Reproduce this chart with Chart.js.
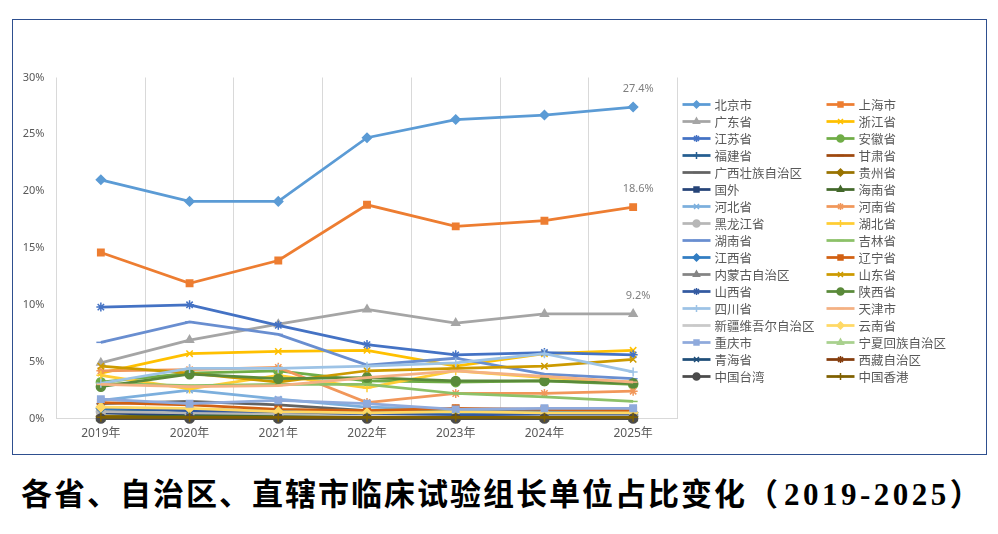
<!DOCTYPE html>
<html lang="zh-CN">
<head>
    <meta charset="UTF-8">
    <title>临床试验组长单位占比变化</title>

    <!-- CSS -->
    <style>
        * {
            margin: 0;
            padding: 0;
            box-sizing: border-box;
        }

        body {
            width: 998px;
            height: 534px;
            background: #fff;
            position: relative;
            overflow: hidden;
        }

        .chart-box {
            position: absolute;
            left: 12px;
            top: 19px;
            width: 975px;
            height: 436px;
            border: 1.5px solid #2E4F8F;
        }

        .caption {
            position: absolute;
            left: 21px;
            top: 478px;
            line-height: 34px;
            font-family: "Liberation Serif", "Noto Sans CJK SC", serif;
            font-weight: bold;
            font-size: 31px;
            letter-spacing: 2px;
            color: #000;
            white-space: nowrap;
        }

        .caption .num {
            letter-spacing: 3.5px;
            font-weight: 600;
        }

        .caption .par {
            letter-spacing: 6px;
        }
    </style>

    <!-- Chart.js -->
    <script src="https://cdn.jsdelivr.net/npm/chart.js"></script>
</head>
<body>
    <div class="chart-box">
        <canvas id="lineChart"></canvas>
    </div>
    <div class="caption">各省、自治区、直辖市临床试验组长单位占比变化<span class="par">（</span><span class="num">2019-2025</span>）</div>

    <script>
        // Données
        const years = ['2019年', '2020年', '2021年', '2022年', '2023年', '2024年', '2025年'];
        const yTicks = [0, 5, 10, 15, 20, 25, 30];

        const regions = [
            '北京市', '上海市', '广东省', '浙江省', '江苏省', '安徽省', '福建省', '甘肃省',
            '广西壮族自治区', '贵州省', '国外', '海南省', '河北省', '河南省', '黑龙江省', '湖北省',
            '湖南省', '吉林省', '江西省', '辽宁省', '内蒙古自治区', '山东省', '山西省', '陕西省',
            '四川省', '天津市', '新疆维吾尔自治区', '云南省', '重庆市', '宁夏回族自治区', '青海省', '西藏自治区',
            '中国台湾', '中国香港'
        ];

        // % par année, même ordre que regions
        const shares = [
            [21.0, 19.1, 19.1, 24.7, 26.3, 26.7, 27.4], // 北京市
            [14.6, 11.9, 13.9, 18.8, 16.9, 17.4, 18.6], // 上海市
            [4.9, 6.9, 8.3, 9.6, 8.4, 9.2, 9.2],        // 广东省
            [4.0, 5.7, 5.9, 6.0, 4.6, 5.7, 6.0],        // 浙江省
            [9.8, 10.0, 8.2, 6.5, 5.6, 5.8, 5.6],       // 江苏省
            [3.2, 4.0, 4.2, 3.3, 3.2, 3.3, 3.0],        // 安徽省
            [0.8, 0.7, 0.6, 0.5, 0.4, 0.5, 0.4],        // 福建省
            [0.1, 0.1, 0.1, 0.1, 0.1, 0.1, 0.1],        // 甘肃省
            [1.3, 1.5, 1.2, 0.7, 0.6, 0.5, 0.4],        // 广西
            [0.2, 0.2, 0.3, 0.2, 0.2, 0.2, 0.2],        // 贵州省
            [0.5, 0.3, 0.2, 0.1, 0.1, 0.1, 0.1],        // 国外
            [0.1, 0.2, 0.3, 0.4, 0.7, 0.6, 0.6],        // 海南省
            [1.6, 2.5, 1.7, 1.0, 0.8, 0.8, 0.8],        // 河北省
            [4.2, 4.3, 4.5, 1.4, 2.2, 2.2, 2.4],        // 河南省
            [0.6, 0.5, 0.4, 0.4, 0.3, 0.3, 0.3],        // 黑龙江省
            [3.8, 2.6, 3.8, 2.7, 4.2, 3.6, 3.2],        // 湖北省
            [6.7, 8.5, 7.4, 4.7, 5.3, 3.9, 3.5],        // 湖南省
            [3.1, 2.9, 3.0, 3.0, 2.2, 1.9, 1.5],        // 吉林省
            [0.9, 0.8, 0.7, 0.6, 0.5, 0.6, 0.5],        // 江西省
            [1.4, 1.2, 0.8, 0.7, 0.9, 0.8, 0.7],        // 辽宁省
            [0.1, 0.1, 0.1, 0.1, 0.1, 0.1, 0.1],        // 内蒙古
            [4.6, 4.0, 3.2, 4.2, 4.4, 4.6, 5.2],        // 山东省
            [1.0, 0.7, 0.6, 0.4, 0.3, 0.4, 0.4],        // 山西省
            [2.8, 3.9, 3.5, 3.6, 3.3, 3.3, 3.1],        // 陕西省
            [3.1, 4.4, 4.4, 4.6, 4.9, 5.7, 4.1],        // 四川省
            [3.0, 2.8, 2.9, 3.6, 4.2, 3.7, 3.2],        // 天津市
            [0.1, 0.1, 0.1, 0.2, 0.1, 0.1, 0.1],        // 新疆
            [1.0, 0.9, 0.6, 0.5, 0.6, 0.5, 0.5],        // 云南省
            [1.7, 1.3, 1.6, 1.3, 0.8, 0.9, 0.9],        // 重庆市
            [0.0, 0.1, 0.0, 0.1, 0.1, 0.0, 0.0],        // 宁夏
            [0.0, 0.0, 0.1, 0.0, 0.0, 0.0, 0.0],        // 青海省
            [0.0, 0.0, 0.0, 0.0, 0.0, 0.0, 0.0],        // 西藏
            [0.0, 0.0, 0.0, 0.0, 0.0, 0.0, 0.0],        // 中国台湾
            [0.1, 0.1, 0.1, 0.1, 0.1, 0.1, 0.1]         // 中国香港
        ];

        // Style (palette Excel)
        const colors = [
            '#5B9BD5', '#ED7D31', '#A5A5A5', '#FFC000', '#4472C4', '#70AD47', '#255E91', '#9E480E',
            '#636363', '#997300', '#264478', '#43682B', '#7CAFDD', '#F1975A', '#B7B7B7', '#FFCD33',
            '#698ED0', '#8CC168', '#327DC2', '#D26012', '#848484', '#CC9A00', '#335AA1', '#5A8A3A',
            '#9DC3E6', '#F4B183', '#C9C9C9', '#FFD966', '#8FAADC', '#A9D18E', '#1F4E79', '#843C0C',
            '#4B4B4B', '#7F6000'
        ];
        const markers = ['rectRot', 'rect', 'triangle', 'crossRot', 'star', 'circle', 'cross', 'line', 'line'];

        const labelFont = '"Noto Sans", "Noto Sans CJK SC", sans-serif';

        function marker(ctx, style, r, x, y, color) {
            ctx.fillStyle = color;
            ctx.strokeStyle = color;
            ctx.lineWidth = 1.5;
            if (Chart.helpers && Chart.helpers.drawPoint) {
                Chart.helpers.drawPoint(ctx, { pointStyle: style, radius: r, rotation: 0, borderWidth: 1.5 }, x, y);
            }
        }

        // étiquettes de la dernière valeur
        const endLabels = {
            id: 'endLabels',
            afterDatasetsDraw(chart) {
                const ctx = chart.ctx;
                ctx.save();
                ctx.font = '11px ' + labelFont;
                ctx.fillStyle = '#7F7F7F';
                ctx.textAlign = 'center';
                ctx.textBaseline = 'middle';
                [0, 1, 2].forEach(i => {
                    const pts = chart.getDatasetMeta(i).data;
                    const p = pts[pts.length - 1];
                    const v = shares[i][shares[i].length - 1];
                    ctx.fillText(v.toFixed(1) + '%', p.x + 5, p.y - 18);
                });
                ctx.restore();
            }
        };

        // légende à deux colonnes
        const sideLegend = {
            id: 'sideLegend',
            afterDraw(chart) {
                const ctx = chart.ctx;
                const colX = [669.5, 813.5];
                ctx.save();
                ctx.font = '12.5px "Noto Sans CJK SC", sans-serif';
                ctx.textBaseline = 'middle';
                ctx.textAlign = 'left';
                regions.forEach((name, i) => {
                    const x = colX[i % 2];
                    const y = 84.5 + 17 * Math.floor(i / 2);
                    ctx.strokeStyle = colors[i];
                    ctx.lineWidth = 2.75;
                    ctx.beginPath();
                    ctx.moveTo(x, y);
                    ctx.lineTo(x + 28, y);
                    ctx.stroke();
                    marker(ctx, markers[i % 9], 3.5, x + 14, y, colors[i]);
                    ctx.fillStyle = '#595959';
                    ctx.fillText(name, x + 32, y + 0.5);
                });
                ctx.restore();
            }
        };

        document.addEventListener('DOMContentLoaded', () => {
            const datasets = regions.map((name, i) => ({
                label: name,
                data: shares[i],
                borderColor: colors[i],
                backgroundColor: colors[i],
                borderWidth: 2.75,
                pointStyle: markers[i % 9],
                pointRadius: 4.5,
                pointBorderWidth: 1.5,
                pointBackgroundColor: colors[i],
                pointBorderColor: colors[i],
                tension: 0,
                clip: false,
                order: -i
            }));

            new Chart(document.getElementById('lineChart'), {
                type: 'line',
                data: { labels: years, datasets: datasets },
                options: {
                    responsive: true,
                    maintainAspectRatio: false,
                    animation: false,
                    layout: { padding: { top: 57.5, right: 308.5, left: 0, bottom: 0 } },
                    plugins: {
                        legend: { display: false },
                        tooltip: { enabled: false }
                    },
                    scales: {
                        x: {
                            offset: true,
                            afterFit: s => { s.height = 35.5; },
                            grid: { color: '#D9D9D9', lineWidth: 1, offset: true, drawTicks: false },
                            border: { color: '#D9D9D9' },
                            ticks: { color: '#595959', font: { size: 12, family: labelFont }, padding: 8 }
                        },
                        y: {
                            min: 0,
                            max: 30,
                            afterFit: s => { s.width = 43.5; },
                            afterBuildTicks: s => { s.ticks = yTicks.map(v => ({ value: v })); },
                            grid: { display: false, drawTicks: false },
                            border: { display: false },
                            ticks: {
                                color: '#595959',
                                font: { size: 11, family: labelFont },
                                padding: 12,
                                callback: v => v + '%'
                            }
                        }
                    }
                },
                plugins: [endLabels, sideLegend]
            });
        });
    </script>
</body>
</html>
